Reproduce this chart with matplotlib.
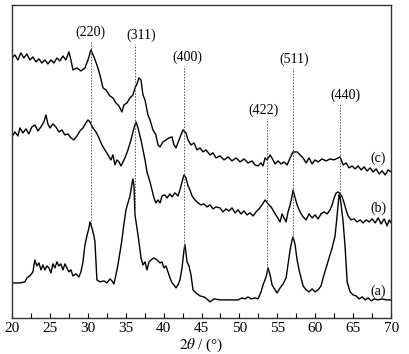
"""
XRD patterns (a), (b), (c) with spinel reflections marked
"""

import numpy as np
import matplotlib.pyplot as plt
from matplotlib.ticker import MultipleLocator

# 2theta (deg) and intensity (a.u.)
two_theta_a = [20.00, 21.06, 21.72, 21.98, 22.37, 22.77, 23.03, 23.30, 23.56, 23.83, 24.09, 24.35, 24.62,
               24.88, 25.15, 25.41, 25.67, 25.94, 26.20, 26.46, 26.73, 26.99, 27.26, 27.52, 27.78, 28.05,
               28.44, 28.84, 29.10, 29.37, 29.63, 29.89, 30.16, 30.29, 30.55, 30.82, 30.95, 31.21, 31.61,
               32.14, 32.53, 32.93, 33.19, 33.45, 33.72, 33.98, 34.25, 34.51, 34.77, 35.04, 35.30, 35.57,
               35.83, 35.96, 36.10, 36.23, 36.49, 36.75, 37.02, 37.28, 37.55, 37.81, 38.08, 38.34, 38.73,
               39.13, 39.53, 39.79, 40.05, 40.32, 40.58, 40.84, 41.11, 41.37, 41.64, 41.90, 42.16, 42.43,
               42.69, 42.82, 43.09, 43.35, 43.61, 43.88, 44.27, 44.80, 45.33, 45.85, 46.12, 46.65, 47.44,
               48.76, 49.82, 50.34, 50.74, 51.13, 51.53, 52.06, 52.45, 52.85, 53.11, 53.51, 53.77, 54.04,
               54.30, 54.70, 54.96, 55.36, 55.75, 56.15, 56.41, 56.68, 56.94, 57.07, 57.34, 57.60, 57.86,
               58.13, 58.39, 58.79, 59.18, 59.58, 59.97, 60.37, 60.76, 61.03, 61.42, 61.82, 62.22, 62.61,
               62.88, 63.14, 63.27, 63.41, 63.67, 63.93, 64.20, 64.59, 64.99, 65.38, 65.78, 66.18, 66.57,
               66.97, 67.36, 67.76, 68.29, 68.81, 69.34, 70.00]
intensity_a = [35, 35, 36, 40, 42, 46, 58, 52, 55, 48, 53, 48, 52,
               50, 45, 54, 50, 56, 52, 54, 48, 54, 50, 46, 48, 42,
               44, 41, 46, 56, 73, 82, 90, 96, 90, 82, 76, 38, 36,
               37, 35, 39, 37, 34, 43, 53, 66, 78, 94, 108, 115, 122,
               134, 139, 132, 103, 90, 76, 60, 53, 56, 48, 56, 58, 60,
               58, 55, 56, 50, 52, 46, 40, 35, 33, 30, 33, 38, 50,
               68, 73, 56, 52, 43, 28, 25, 22, 21, 18, 16, 19, 18,
               18, 18, 20, 19, 21, 19, 20, 19, 26, 33, 41, 50, 43,
               33, 28, 25, 30, 34, 40, 54, 68, 78, 81, 73, 58, 48,
               40, 32, 28, 26, 29, 26, 28, 32, 40, 50, 60, 70, 82,
               103, 123, 121, 113, 96, 71, 36, 26, 23, 22, 19, 21, 18,
               20, 17, 19, 18, 19, 18, 18]

two_theta_b = [20.00, 20.40, 20.79, 21.06, 21.45, 21.85, 22.24, 22.64, 23.03, 23.43, 23.83, 24.22, 24.49,
               24.75, 25.01, 25.41, 25.80, 26.20, 26.60, 26.99, 27.39, 27.78, 28.18, 28.58, 28.97, 29.37,
               29.76, 30.03, 30.29, 30.69, 31.08, 31.48, 31.87, 32.27, 32.66, 33.06, 33.32, 33.59, 33.85,
               34.11, 34.38, 34.64, 34.91, 35.30, 35.70, 36.10, 36.36, 36.62, 37.02, 37.28, 37.55, 37.81,
               38.21, 38.47, 38.73, 38.99, 39.26, 39.53, 39.79, 40.18, 40.45, 40.84, 41.11, 41.50, 41.90,
               42.16, 42.43, 42.69, 42.95, 43.22, 43.48, 43.75, 44.14, 44.54, 44.93, 45.33, 45.72, 46.12,
               46.52, 46.91, 47.44, 47.84, 48.23, 48.63, 49.02, 49.42, 49.82, 50.21, 50.61, 51.00, 51.40,
               51.79, 52.19, 52.59, 52.98, 53.38, 53.77, 54.17, 54.57, 54.96, 55.36, 55.62, 55.88, 56.15,
               56.41, 56.68, 56.94, 57.07, 57.34, 57.60, 57.99, 58.39, 58.79, 59.18, 59.58, 59.97, 60.37,
               60.76, 61.16, 61.56, 61.95, 62.22, 62.48, 62.75, 63.01, 63.27, 63.54, 63.80, 64.06, 64.33,
               64.72, 65.12, 65.51, 65.91, 66.31, 66.70, 67.10, 67.49, 67.89, 68.29, 68.68, 69.08, 69.47,
               69.74, 70.00]
intensity_b = [181, 186, 182, 190, 185, 189, 184, 191, 193, 187, 191, 196, 203,
               194, 190, 194, 191, 186, 188, 183, 184, 180, 178, 182, 187, 190,
               195, 198, 196, 190, 186, 180, 173, 168, 163, 158, 163, 153, 158,
               156, 152, 156, 160, 168, 178, 190, 196, 190, 178, 168, 158, 146,
               136, 128, 120, 115, 118, 115, 122, 123, 120, 124, 121, 125, 122,
               128, 136, 143, 140, 132, 128, 122, 118, 115, 113, 114, 111, 113,
               109, 111, 110, 106, 109, 107, 110, 105, 108, 104, 107, 103, 105,
               102, 106, 109, 113, 118, 114, 111, 106, 101, 96, 104, 100, 96,
               106, 113, 122, 128, 120, 113, 106, 101, 98, 104, 100, 103, 99,
               104, 106, 104, 108, 113, 120, 125, 126, 124, 121, 115, 108, 102,
               98, 99, 96, 98, 95, 98, 96, 99, 95, 100, 94, 99, 92,
               98, 95]

two_theta_c = [20.00, 20.40, 20.79, 21.19, 21.58, 21.98, 22.37, 22.77, 23.17, 23.56, 23.96, 24.35, 24.75,
               25.15, 25.54, 25.94, 26.33, 26.73, 27.12, 27.52, 27.78, 28.05, 28.58, 29.10, 29.63, 30.03,
               30.42, 30.82, 31.21, 31.61, 32.01, 32.40, 32.93, 33.32, 33.72, 34.11, 34.51, 34.77, 35.17,
               35.57, 35.96, 36.23, 36.49, 36.75, 37.02, 37.28, 37.55, 37.94, 38.21, 38.60, 38.99, 39.26,
               39.53, 39.92, 40.32, 40.71, 41.11, 41.37, 41.64, 42.03, 42.30, 42.56, 42.95, 43.22, 43.61,
               44.01, 44.41, 44.80, 45.20, 45.59, 46.12, 46.52, 46.91, 47.44, 47.97, 48.50, 49.02, 49.55,
               50.08, 50.61, 51.13, 51.66, 52.06, 52.45, 52.85, 53.11, 53.38, 53.64, 54.04, 54.43, 54.70,
               55.09, 55.49, 55.88, 56.28, 56.68, 57.07, 57.60, 57.99, 58.39, 58.79, 59.18, 59.58, 59.97,
               60.37, 60.90, 61.42, 61.95, 62.48, 63.01, 63.27, 63.67, 64.06, 64.46, 64.85, 65.25, 65.65,
               66.04, 66.44, 66.83, 67.23, 67.63, 68.02, 68.42, 68.81, 69.21, 69.60, 70.00]
intensity_c = [260, 263, 258, 265, 260, 264, 258, 261, 256, 259, 255, 258, 254,
               258, 255, 260, 257, 262, 258, 266, 258, 248, 250, 247, 250, 258,
               268, 261, 253, 243, 230, 228, 222, 220, 215, 212, 206, 213, 215,
               220, 223, 230, 234, 240, 238, 223, 218, 203, 198, 188, 183, 173,
               171, 176, 178, 180, 181, 173, 170, 178, 183, 188, 185, 178, 173,
               175, 168, 170, 166, 168, 163, 165, 160, 162, 158, 161, 157, 160,
               156, 159, 155, 157, 153, 152, 155, 152, 160, 158, 163, 158, 154,
               157, 154, 156, 153, 160, 166, 166, 163, 160, 155, 160, 154, 158,
               156, 159, 157, 159, 158, 160, 161, 153, 155, 150, 152, 149, 152,
               148, 151, 147, 150, 146, 149, 144, 147, 143, 148, 146]

# reflections (hkl) and where they sit
hkl = ['(220)', '(311)', '(400)', '(422)', '(511)', '(440)']
peak_pos = [30.4, 36.2, 42.7, 53.6, 57.1, 63.2]
hkl_label_x = [30.3, 37.1, 43.2, 53.2, 57.2, 64.0]
hkl_label_y = [286, 283, 261, 208, 259, 223]

sample_names = ['(a)', '(b)', '(c)']
sample_label_y = [27, 110, 160]

plt.rcParams['font.family'] = ['Liberation Serif', 'DejaVu Serif']
plt.rcParams['mathtext.fontset'] = 'stix'
plt.rcParams['font.size'] = 10

fig = plt.figure(figsize=(4.10, 3.54), dpi=100)
ax = fig.add_axes([0.029, 0.102, 0.925, 0.884])

for tt, inten in [(two_theta_a, intensity_a), (two_theta_b, intensity_b), (two_theta_c, intensity_c)]:
    ax.plot(tt, inten, color='black', lw=1.0)

# dotted guide lines from label down to pattern (a)
for pos, lab, lx, ly in zip(peak_pos, hkl, hkl_label_x, hkl_label_y):
    bottom = np.interp(pos, two_theta_a, intensity_a)
    ax.plot([pos, pos], [bottom, ly - 9], color='#555555', lw=0.7, ls=(0, (1.5, 1.5)))
    ax.text(lx, ly, lab, ha='center', va='center', fontsize=10)

for name, ly in zip(sample_names, sample_label_y):
    ax.text(68.3, ly, name, ha='center', va='center', fontsize=10)

ax.set_xlim(20, 70)
ax.set_ylim(0, 313)
ax.set_yticks([])
ax.xaxis.set_major_locator(MultipleLocator(5))
ax.xaxis.set_minor_locator(MultipleLocator(2.5))
ax.tick_params(axis='x', which='both', direction='in', length=3.5, width=0.8, labelsize=11, pad=3)
for sp in ax.spines.values():
    sp.set_color('#333333')
    sp.set_linewidth(1.0)
ax.set_xlabel(r'$2\theta$ / (°)', fontsize=11, labelpad=1)

fig.savefig('out.png', dpi=100)
